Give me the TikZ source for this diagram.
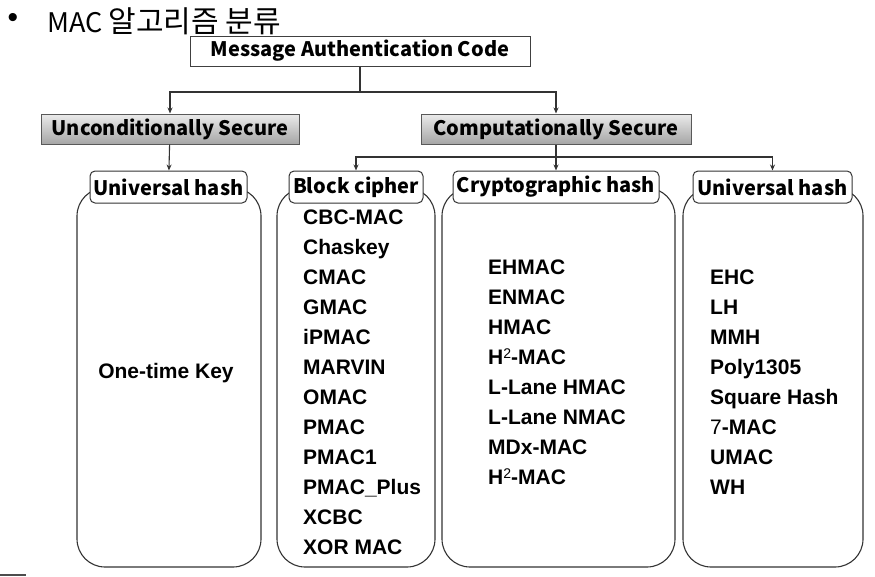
\documentclass[tikz,border=0pt]{standalone}
\usepackage{fontspec}
\setmainfont{Liberation Sans}
\newfontfamily\kr{Noto Sans CJK KR}
\usetikzlibrary{arrows.meta}

% superscript two used in the hash names
\newcommand{\suptwo}{\raisebox{0.5ex}{\fontsize{14}{14}\selectfont\mdseries 2}}

\begin{document}
\begin{tikzpicture}[x=1pt,y=-1pt,
  line/.style={draw=black!80, line width=1.1pt},
  arr/.style={line, -{Stealth[length=6pt,width=5pt]}},
  hfont/.style={font=\kr\bfseries\fontsize{20}{20}\selectfont},
  rootbox/.style={hfont, draw=black!75, line width=1pt, fill=white,
    minimum height=30pt, inner sep=0pt},
  secbox/.style={hfont, draw=black!65, line width=1pt,
    top color=black!8, bottom color=black!35,
    minimum height=30pt, inner sep=0pt},
  famlabel/.style={hfont, draw=black!80, line width=1pt, fill=white,
    rounded corners=5pt, minimum height=32pt, inner sep=0pt},
  column/.style={draw=black!80, line width=1.1pt, rounded corners=28pt,
    inner sep=0pt},
  item/.style={font=\bfseries\fontsize{21}{21}\selectfont, inner sep=0pt,
    anchor=base west}
]
\useasboundingbox (0,0) rectangle (875,576);

% heading
\node[font=\fontsize{30}{30}\selectfont, inner sep=0pt] (bullet) at (13,20) {•};
\node[font=\kr\fontsize{27}{27}\selectfont, inner sep=0pt, anchor=west]
  (title) at (47,21) {MAC {\fontsize{30}{30}\selectfont 알고리즘 분류}};

% top levels
\node[rootbox, minimum width=340pt] (mac) at (360,51) {Message Authentication Code};
\node[secbox, minimum width=258pt] (unc) at (170,129) {Unconditionally Secure};
\node[secbox, minimum width=270pt] (comp) at (556,129) {Computationally Secure};

% column frames
\draw[column] (77,188) rectangle (261,567);
\draw[column] (277,188) rectangle (435,567);
\draw[column] (442,188) rectangle (675,567);
\draw[column] (683,188) rectangle (863,567);

% family labels
\node[famlabel, minimum width=157pt] (luh1) at (168.5,187) {Universal hash};
\node[famlabel, minimum width=134pt] (lblock) at (356,187) {Block cipher};
\node[famlabel, minimum width=206pt] (lcrypt) at (556,187) {Cryptographic hash};
\node[famlabel, minimum width=159pt] (luh2) at (772.5,187) {Universal hash};

% connectors
\coordinate (j1) at (360,92);
\coordinate (j2) at (556,157);
\draw[line] (mac) -- (j1);
\draw[arr] (j1) -| (unc);
\draw[arr] (j1) -| (comp);
\draw[arr] (unc) -- (luh1);
\draw[line] (comp) -- (j2);
\draw[arr] (j2) -- (lcrypt);
\draw[arr] (j2) -| (lblock);
\draw[arr] (j2) -| (luh2);

% column contents
\node[font=\bfseries\fontsize{21}{21}\selectfont, inner sep=0pt] (otk) at (166,373) {One-time Key};

\foreach \t [count=\i] in {CBC-MAC, Chaskey, CMAC, GMAC, iPMAC, MARVIN, OMAC,
    PMAC, PMAC1, PMAC\_Plus, XCBC, XOR MAC}
  \node[item] (b\i) at (303,{224+(\i-1)*30}) {\t};

\foreach \t [count=\i] in {EHMAC, ENMAC, HMAC, {H\suptwo-MAC}, L-Lane HMAC,
    L-Lane NMAC, MDx-MAC, {H\suptwo-MAC}}
  \node[item] (c\i) at (488,{274+(\i-1)*30}) {\t};

\foreach \t [count=\i] in {EHC, LH, MMH, Poly1305, Square Hash,
    {{\mdseries 7}-MAC}, UMAC, WH}
  \node[item] (u\i) at (710,{284+(\i-1)*30}) {\t};

% small rule at the lower left edge
\fill[black!70] (0,573.5) rectangle (26,576);
\end{tikzpicture}
\end{document}
